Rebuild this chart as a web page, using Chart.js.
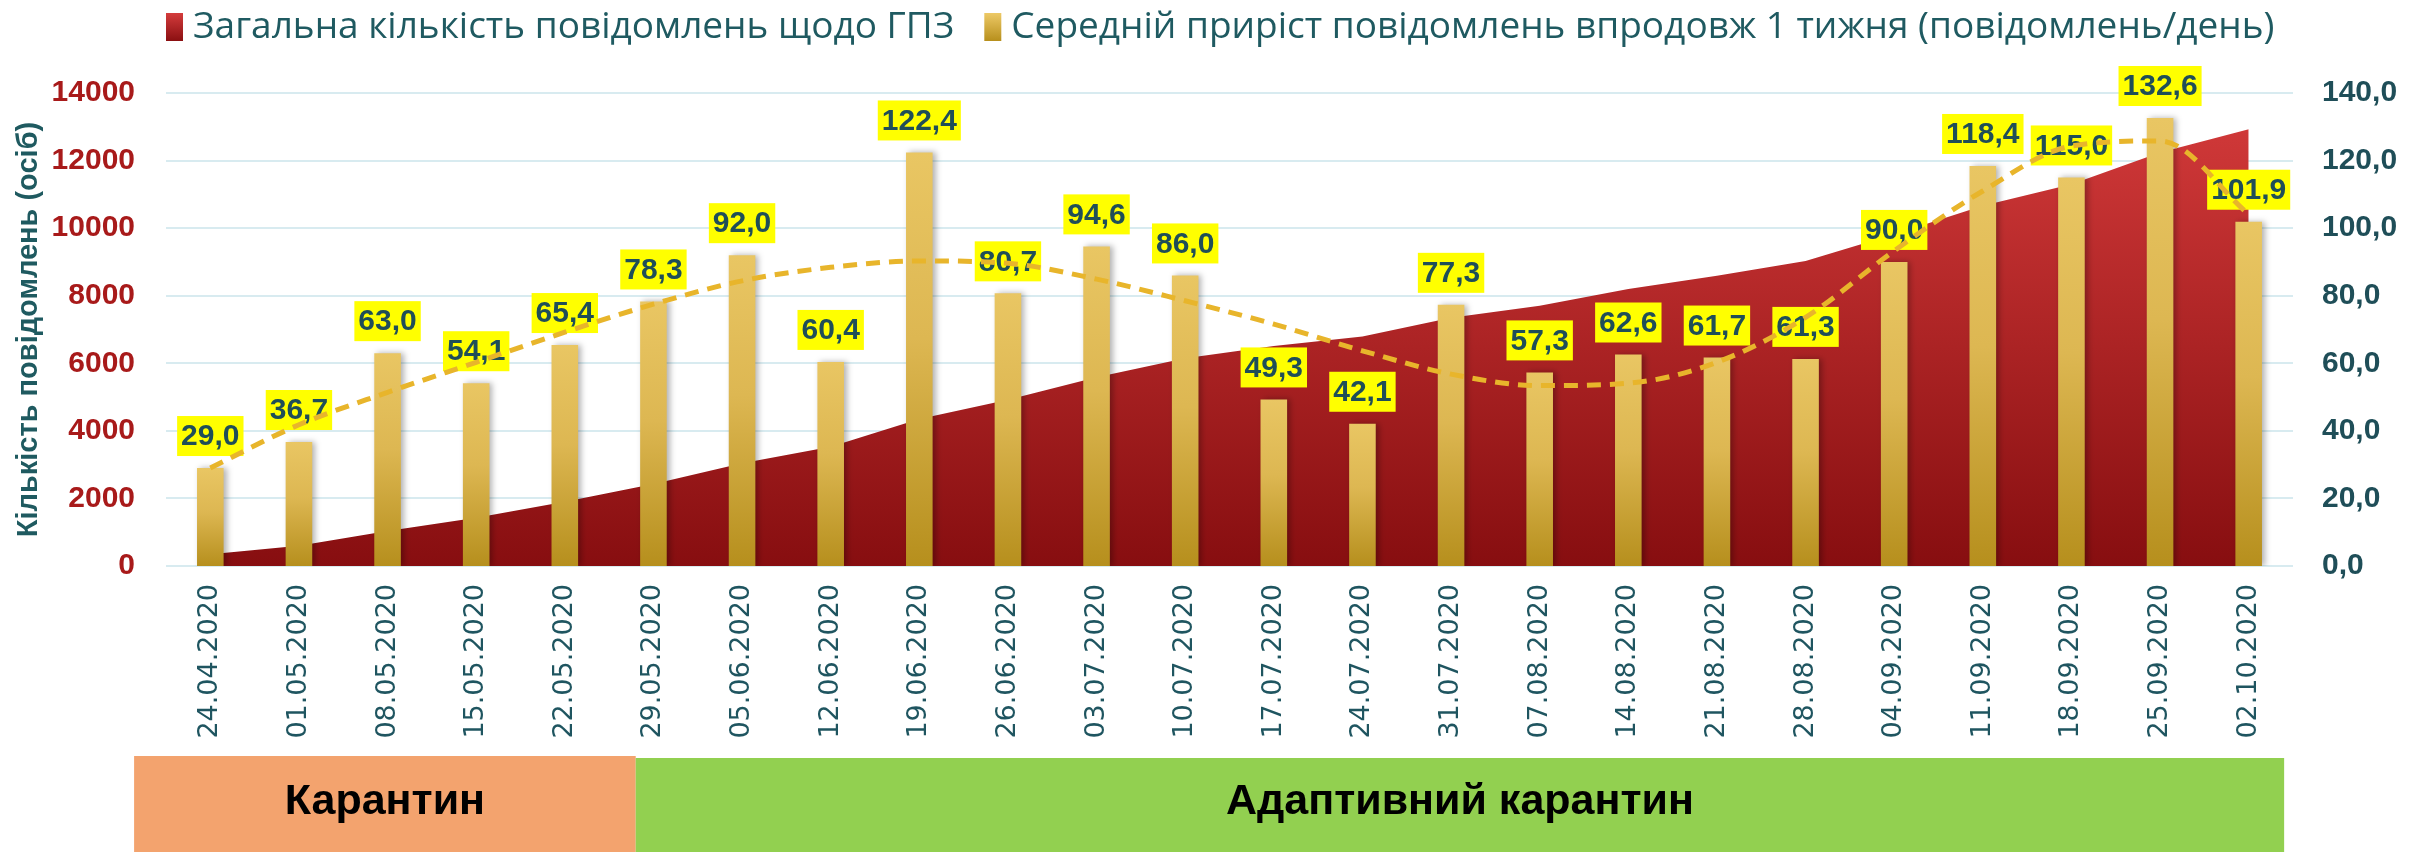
<!DOCTYPE html>
<html>
<head>
<meta charset="utf-8">
<script src="https://cdn.jsdelivr.net/npm/chart.js@4.4.0/dist/chart.umd.min.js"></script>
<style>
  html, body { margin: 0; padding: 0; background: #fff; }
  #wrap { width: 2410px; height: 852px; }
</style>
</head>
<body>
<div id="wrap"><canvas id="reportsChart" width="2410" height="852"></canvas></div>
<script>
const dates = ['24.04.2020', '01.05.2020', '08.05.2020', '15.05.2020', '22.05.2020', '29.05.2020',
    '05.06.2020', '12.06.2020', '19.06.2020', '26.06.2020', '03.07.2020', '10.07.2020',
    '17.07.2020', '24.07.2020', '31.07.2020', '07.08.2020', '14.08.2020', '21.08.2020',
    '28.08.2020', '04.09.2020', '11.09.2020', '18.09.2020', '25.09.2020', '02.10.2020'];
const totalReports = [350, 600, 1035, 1430, 1900, 2430, 3040, 3530, 4350, 4920, 5590, 6150,
    6510, 6790, 7350, 7700, 8200, 8590, 9030, 9820, 10660, 11300, 12240, 12930];
const weeklyGrowth = [29.0, 36.7, 63.0, 54.1, 65.4, 78.3, 92.0, 60.4, 122.4, 80.7, 94.6, 86.0,
    49.3, 42.1, 77.3, 57.3, 62.6, 61.7, 61.3, 90.0, 118.4, 115.0, 132.6, 101.9];
// dashed trend line
const growthTrend = [29.0, 41.8, 51.4, 60.3, 69.2, 77.5, 84.4, 88.4, 90.3, 89.6, 84.9, 78.5,
    71.6, 63.7, 56.8, 53.4, 54.1, 60.3, 73.6, 93.3, 111.0, 124.3, 125.8, 104.1];
const leftTicks = [0, 2000, 4000, 6000, 8000, 10000, 12000, 14000];
const rightTicks = [0, 20, 40, 60, 80, 100, 120, 140];
const periods = ['Карантин', 'Адаптивний карантин'];
const periodFirst = ['24.04.2020', '29.05.2020'];
const periodLast = ['22.05.2020', '02.10.2020'];

const totalLabel = 'Загальна кількість повідомлень щодо ГПЗ';
const growthLabel = 'Середній приріст повідомлень впродовж 1 тижня (повідомлень/день)';

function comma(v) {
    return v.toFixed(1).replace('.', ',');
}

function areaFill(context) {
    let chart = context.chart;
    if (!chart.chartArea) return '#A82020';
    let top = chart.scales.y.getPixelForValue(Math.max(...totalReports));
    let g = chart.ctx.createLinearGradient(0, top, 0, chart.chartArea.bottom);
    g.addColorStop(0, '#CF3838');
    g.addColorStop(1, '#870E10');
    return g;
}

function barFill(context) {
    let chart = context.chart;
    if (!chart.chartArea || context.type !== 'data') return '#D4AE48';
    let y1 = chart.scales.y1;
    let top = y1.getPixelForValue(context.raw);
    let bottom = y1.getPixelForValue(0);
    let g = chart.ctx.createLinearGradient(0, top, 0, bottom);
    g.addColorStop(0, '#E9C663');
    g.addColorStop(0.45, '#DDB752');
    g.addColorStop(1, '#B68F1D');
    return g;
}

// shadows + yellow value labels
const barDecor = {
    id: 'barDecor',
    beforeDatasetDraw(chart, args) {
        let ctx = chart.ctx;
        ctx.save();
        if (args.index === 0) {
            ctx.shadowColor = 'rgba(0,0,0,0.35)';
            ctx.shadowBlur = 6;
            ctx.shadowOffsetX = 3;
            ctx.shadowOffsetY = 2;
        } else if (args.index === 1) {
            ctx.shadowColor = 'rgba(0,0,0,0.3)';
            ctx.shadowBlur = 6;
            ctx.shadowOffsetX = 3;
        }
    },
    afterDatasetDraw(chart, args) {
        let ctx = chart.ctx;
        ctx.restore();
        if (args.index !== 1) return;
        let meta = chart.getDatasetMeta(1);
        ctx.save();
        ctx.font = 'bold 30px "Liberation Sans"';
        ctx.textAlign = 'center';
        ctx.textBaseline = 'middle';
        meta.data.forEach((bar, i) => {
            let text = comma(weeklyGrowth[i]);
            let w = ctx.measureText(text).width + 8;
            let h = 40;
            let bottom = bar.y - 12;
            ctx.fillStyle = '#FFFF00';
            ctx.fillRect(bar.x - w / 2, bottom - h, w, h);
            ctx.fillStyle = '#1F4E58';
            ctx.fillText(text, bar.x, bottom - h / 2 + 1);
        });
        ctx.restore();
    }
};

// legend on top and period bands at the bottom
const extras = {
    id: 'extras',
    afterDraw(chart) {
        let ctx = chart.ctx;
        let area = chart.chartArea;
        ctx.save();
        // legend
        let items = [
            {text: totalLabel, c: ['#D43C3C', '#8A0F11']},
            {text: growthLabel, c: ['#EDC966', '#B78F1C']}
        ];
        ctx.font = '37px "Open Sans"';
        ctx.textBaseline = 'middle';
        ctx.textAlign = 'left';
        let x = area.left;
        let yMid = 27;
        for (let item of items) {
            let g = ctx.createLinearGradient(0, yMid - 14, 0, yMid + 14);
            g.addColorStop(0, item.c[0]);
            g.addColorStop(1, item.c[1]);
            ctx.fillStyle = g;
            ctx.fillRect(x, yMid - 14, 17, 28);
            x += 27;
            ctx.fillStyle = '#1F5A61';
            ctx.fillText(item.text, x, yMid);
            x += ctx.measureText(item.text).width + 30;
        }
        // period bands
        let xs = chart.scales.x;
        let step = xs.getPixelForValue(1) - xs.getPixelForValue(0);
        let colors = ['#F3A36E', '#92D050'];
        let H = chart.height;
        let prevRight = null;
        periods.forEach((name, i) => {
            let a = dates.indexOf(periodFirst[i]);
            let b = dates.indexOf(periodLast[i]);
            let left = prevRight === null ? xs.getPixelForValue(a) - 0.86 * step : prevRight;
            let right = xs.getPixelForValue(b) + (i === 0 ? 0.8 : 0.4) * step;
            let top = H - 96 + i * 2;
            ctx.fillStyle = colors[i];
            ctx.fillRect(left, top, right - left, H - top);
            ctx.fillStyle = '#000';
            ctx.font = 'bold 43px "Liberation Sans"';
            ctx.textAlign = 'center';
            ctx.fillText(name, (left + right) / 2, H - 50);
            prevRight = right;
        });
        ctx.restore();
    }
};

let ctx = document.getElementById('reportsChart').getContext('2d');
let reportsChart = new Chart(ctx, {
    type: 'bar',
    data: {
        labels: dates,
        datasets: [
            {
                type: 'line',
                label: totalLabel,
                data: totalReports,
                yAxisID: 'y',
                fill: 'origin',
                backgroundColor: areaFill,
                borderColor: 'rgba(0,0,0,0)',
                borderWidth: 0,
                pointRadius: 0,
                tension: 0,
                order: 3
            },
            {
                type: 'bar',
                label: growthLabel,
                data: weeklyGrowth,
                yAxisID: 'y1',
                backgroundColor: barFill,
                barPercentage: 0.3,
                categoryPercentage: 1,
                order: 2
            },
            {
                type: 'line',
                label: 'Тренд',
                data: growthTrend,
                yAxisID: 'y1',
                fill: false,
                borderColor: '#E8B52B',
                borderWidth: 5,
                borderDash: [14, 9],
                pointRadius: 0,
                cubicInterpolationMode: 'monotone',
                order: 1
            }
        ]
    },
    options: {
        responsive: false,
        animation: false,
        layout: { padding: { top: 93, left: 0, right: 0, bottom: 0 } },
        plugins: {
            legend: { display: false },
            tooltip: { enabled: false }
        },
        scales: {
            x: {
                grid: { display: false, drawTicks: false },
                border: { display: false },
                ticks: {
                    color: '#1F5560',
                    font: { family: 'DejaVu Sans', size: 27 },
                    minRotation: 90,
                    maxRotation: 90,
                    autoSkip: false,
                    padding: 18
                },
                afterFit(scale) { scale.height = 286; }
            },
            y: {
                position: 'left',
                min: leftTicks[0],
                max: leftTicks[leftTicks.length - 1],
                afterBuildTicks(scale) { scale.ticks = leftTicks.map(v => ({value: v})); },
                ticks: {
                    color: '#A81A1A',
                    font: { family: 'Liberation Sans', size: 30, weight: 'bold' },
                    padding: 31,
                    callback: v => String(v)
                },
                grid: { color: '#D8EBF0', lineWidth: 2, drawTicks: false },
                border: { display: false },
                title: {
                    display: true,
                    text: 'Кількість повідомлень (осіб)',
                    color: '#1F5A60',
                    font: { family: 'Liberation Sans', size: 29, weight: 'bold' },
                    padding: { top: 12, bottom: 0 }
                },
                afterFit(scale) { scale.width = 166; }
            },
            y1: {
                position: 'right',
                min: rightTicks[0],
                max: rightTicks[rightTicks.length - 1],
                afterBuildTicks(scale) { scale.ticks = rightTicks.map(v => ({value: v})); },
                ticks: {
                    color: '#1F4E58',
                    font: { family: 'Liberation Sans', size: 30, weight: 'bold' },
                    padding: 29,
                    callback: v => comma(v)
                },
                grid: { display: false, drawTicks: false },
                border: { display: false },
                afterFit(scale) { scale.width = 117; }
            }
        }
    },
    plugins: [barDecor, extras]
});
</script>
</body>
</html>
